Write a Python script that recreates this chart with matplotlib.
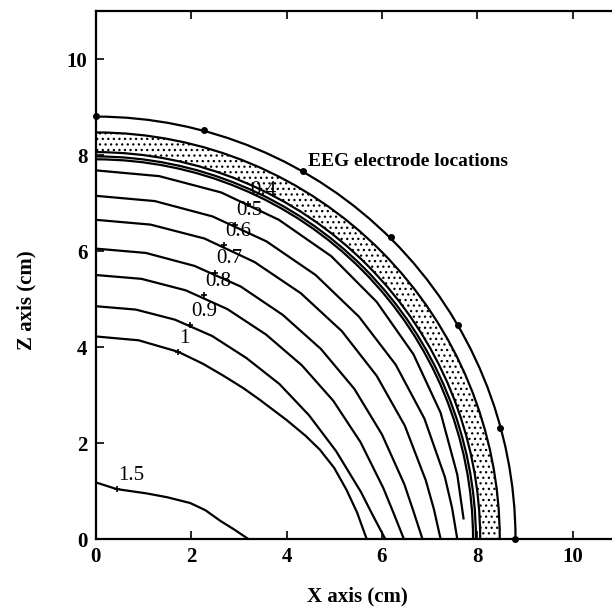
import matplotlib
matplotlib.use('Agg')
import matplotlib.pyplot as plt
from matplotlib.patches import Arc, Wedge

plt.rcParams['font.family'] = ['Liberation Serif', 'DejaVu Serif']
plt.rcParams['hatch.linewidth'] = 0.9

# iso-lines (x, z in cm)
c15_x = [0, 0.44, 1.07, 1.50, 1.98, 2.30, 2.61, 2.90, 3.20]
c15_z = [1.18, 1.04, 0.95, 0.87, 0.75, 0.60, 0.38, 0.20, 0]
c10_x = [0, 0.90, 1.73, 2.25, 2.68, 3.10, 3.44, 4.00, 4.40, 4.70, 5.00, 5.26, 5.48, 5.68]
c10_z = [4.22, 4.14, 3.90, 3.65, 3.40, 3.14, 2.90, 2.48, 2.15, 1.86, 1.48, 1.02, 0.55, 0]
c09_x = [0, 0.84, 1.66, 2.44, 3.16, 3.85, 4.47, 5.04, 5.56, 5.80, 6.07]
c09_z = [4.85, 4.78, 4.57, 4.23, 3.77, 3.23, 2.58, 1.83, 0.98, 0.51, 0]
c08_x = [0, 0.96, 1.89, 2.76, 3.57, 4.32, 4.98, 5.55, 6.03, 6.24, 6.46]
c08_z = [5.50, 5.42, 5.18, 4.79, 4.26, 3.62, 2.88, 2.02, 1.06, 0.55, 0]
c07_x = [0, 1.05, 2.07, 3.04, 3.92, 4.72, 5.42, 6.00, 6.47, 6.66, 6.85]
c07_z = [6.05, 5.96, 5.69, 5.26, 4.67, 3.96, 3.13, 2.18, 1.14, 0.58, 0]
c06_x = [0, 1.15, 2.28, 3.33, 4.30, 5.16, 5.89, 6.48, 6.92, 7.09, 7.23]
c06_z = [6.65, 6.55, 6.26, 5.77, 5.12, 4.33, 3.40, 2.36, 1.22, 0.62, 0]
c05_x = [0, 1.24, 2.45, 3.58, 4.61, 5.52, 6.29, 6.89, 7.32, 7.47, 7.58]
c05_z = [7.15, 7.04, 6.72, 6.20, 5.50, 4.63, 3.63, 2.51, 1.29, 0.65, 0]
c04_x = [0, 1.33, 2.63, 3.84, 4.94, 5.89, 6.66, 7.23, 7.58, 7.71]
c04_z = [7.68, 7.56, 7.22, 6.65, 5.89, 4.94, 3.85, 2.63, 1.34, 0.43]

contours_x = [c15_x, c10_x, c09_x, c08_x, c07_x, c06_x, c05_x, c04_x]
contours_z = [c15_z, c10_z, c09_z, c08_z, c07_z, c06_z, c05_z, c04_z]

# contour labels and where the '+' sits
label_text = ['1.5', '1', '0.9', '0.8', '0.7', '0.6', '0.5', '0.4']
label_x = [0.44, 1.73, 1.98, 2.26, 2.50, 2.68, 2.92, 3.20]
label_z = [1.04, 3.90, 4.45, 5.08, 5.55, 6.12, 6.55, 6.98]

# tissue boundaries (radius, cm)
boundary_r = [7.91, 7.97, 8.06, 8.47]
skull_inner = 8.06
skull_outer = 8.47
scalp_r = 8.80

# electrodes on the scalp
elec_x = [0, 2.26, 4.35, 6.19, 7.60, 8.48, 8.79]
elec_z = [8.82, 8.52, 7.66, 6.30, 4.45, 2.31, 0]

ticks = [0, 2, 4, 6, 8, 10]

fig = plt.figure(figsize=(6.12, 6.11), dpi=100)
ax = fig.add_axes([0.1564, 0.1178, 0.8574, 0.8642])

# stippled skull
ax.add_patch(Wedge((0, 0), skull_outer, 0, 90, width=skull_outer - skull_inner,
                   facecolor='none', edgecolor='black', lw=0, hatch='...'))

for r in boundary_r:
    ax.add_patch(Arc((0, 0), 2 * r, 2 * r, theta1=0, theta2=90, color='black', lw=1.6))
ax.add_patch(Arc((0, 0), 2 * scalp_r, 2 * scalp_r, theta1=0, theta2=90, color='black', lw=1.6))

for xs, zs in zip(contours_x, contours_z):
    ax.plot(xs, zs, color='black', lw=1.6)

ax.plot(label_x, label_z, '+', color='black', ms=5, mew=1.2)
for t, x, z in zip(label_text, label_x, label_z):
    ax.annotate(t, (x, z), xytext=(1, 3), textcoords='offset points',
                fontsize=15, ha='left', va='bottom')

ax.plot(elec_x, elec_z, 'o', color='black', ms=4, clip_on=False)
ax.text(4.46, 7.77, 'EEG electrode locations', fontsize=14, fontweight='bold',
        ha='left', va='baseline')

ax.set_xlim(0, 11)
ax.set_ylim(0, 11)
ax.set_xticks(ticks)
ax.set_yticks(ticks)
ax.tick_params(direction='in', length=6, width=1.2, top=True, right=True,
               labelsize=15, pad=6)
for lab in ax.get_xticklabels() + ax.get_yticklabels():
    lab.set_fontweight('bold')
for sp in ax.spines.values():
    sp.set_linewidth(1.6)

ax.set_xlabel('X axis (cm)', fontsize=15, fontweight='bold', va='center')
ax.set_ylabel('Z axis (cm)', fontsize=15, fontweight='bold', va='center')
ax.xaxis.set_label_coords(0.498, -0.109)
ax.yaxis.set_label_coords(-0.131, 0.4527)

fig.savefig('out.png', dpi=100)
